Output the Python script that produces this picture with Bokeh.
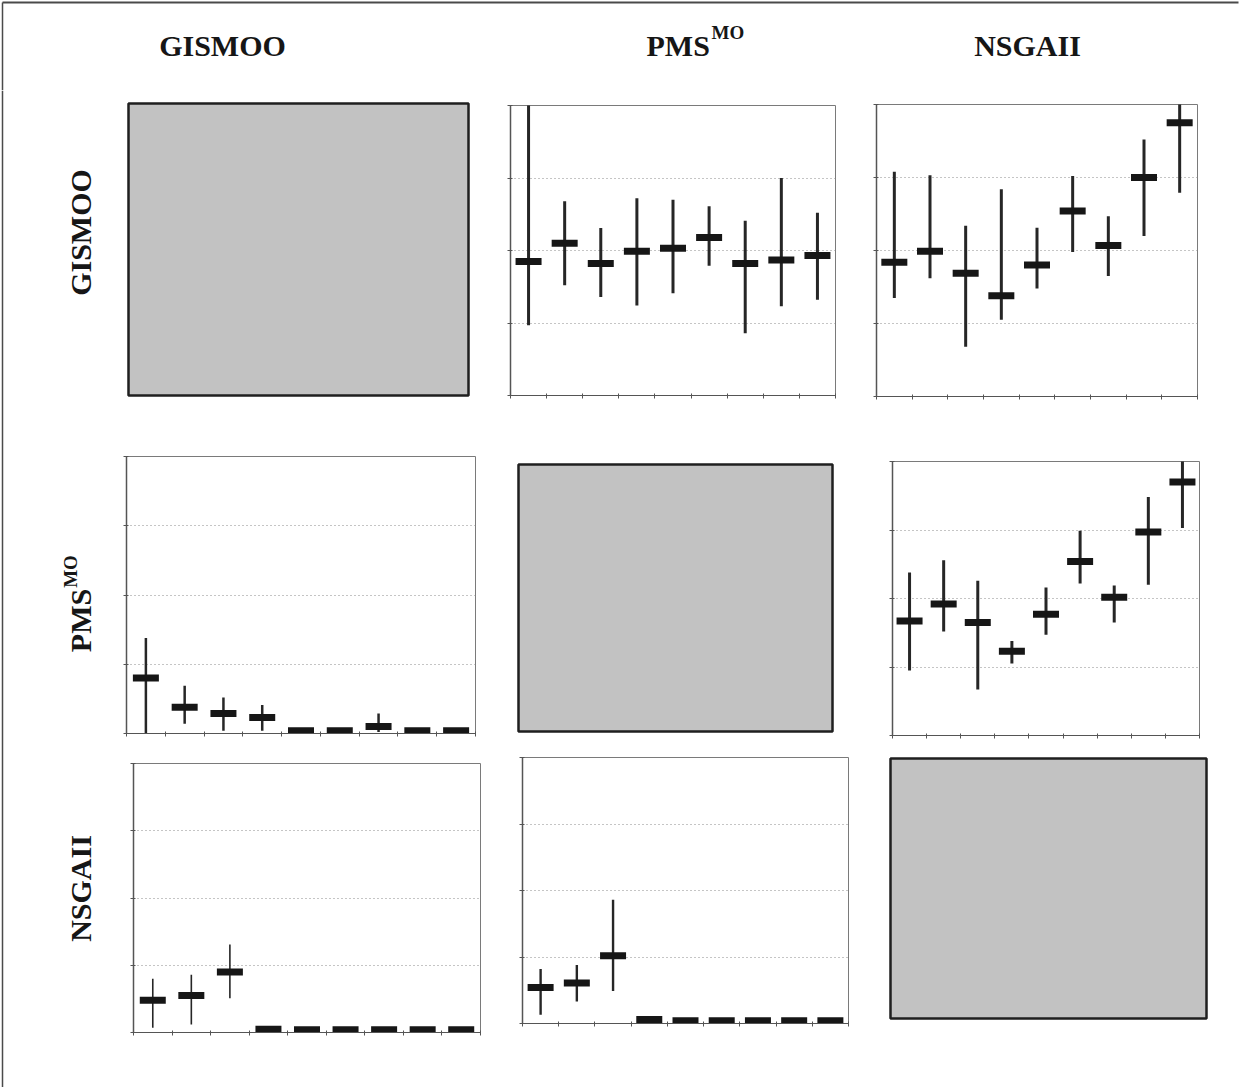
import numpy as np
from math import pi
from bokeh.plotting import figure
from bokeh.layouts import column, row, Spacer
from bokeh.models import Range1d, FixedTicker
from bokeh.embed import file_html
from bokeh.resources import INLINE
from bokeh.core.properties import value

# ---------------- data ----------------
algorithms = ["GISMOO", "PMS", "NSGAII"]
n_cases = 9
x_ticks = list(range(n_cases + 1))
y_ticks = [0, 1, 2, 3, 4]

# row GISMOO, column PMS^MO
r1c2_mean = [1.85, 2.10, 1.82, 1.99, 2.03, 2.18, 1.82, 1.87, 1.93]
r1c2_low = [0.97, 1.52, 1.36, 1.24, 1.41, 1.79, 0.86, 1.23, 1.32]
r1c2_high = [4.30, 2.68, 2.31, 2.72, 2.70, 2.61, 2.41, 3.00, 2.52]

# row GISMOO, column NSGAII
r1c3_mean = [1.84, 1.99, 1.69, 1.38, 1.80, 2.54, 2.07, 3.00, 3.75]
r1c3_low = [1.35, 1.62, 0.68, 1.05, 1.48, 1.98, 1.65, 2.20, 2.79]
r1c3_high = [3.08, 3.03, 2.34, 2.84, 2.31, 3.02, 2.47, 3.52, 4.05]

# row PMS^MO, column GISMOO
r2c1_mean = [0.80, 0.38, 0.29, 0.23, 0.04, 0.04, 0.10, 0.04, 0.04]
r2c1_low = [0.00, 0.14, 0.04, 0.04, 0.04, 0.04, 0.02, 0.04, 0.04]
r2c1_high = [1.38, 0.69, 0.52, 0.41, 0.04, 0.04, 0.29, 0.04, 0.04]

# row PMS^MO, column NSGAII
r2c3_mean = [1.67, 1.92, 1.65, 1.23, 1.77, 2.54, 2.02, 2.97, 3.70]
r2c3_low = [0.95, 1.52, 0.67, 1.05, 1.47, 2.22, 1.65, 2.20, 3.03]
r2c3_high = [2.38, 2.56, 2.26, 1.38, 2.16, 2.99, 2.19, 3.48, 4.05]

# row NSGAII, column GISMOO
r3c1_mean = [0.48, 0.55, 0.90, 0.05, 0.04, 0.04, 0.04, 0.04, 0.04]
r3c1_low = [0.07, 0.12, 0.51, 0.05, 0.04, 0.04, 0.04, 0.04, 0.04]
r3c1_high = [0.80, 0.86, 1.31, 0.05, 0.04, 0.04, 0.04, 0.04, 0.04]

# row NSGAII, column PMS^MO
r3c2_mean = [0.54, 0.61, 1.02, 0.06, 0.04, 0.04, 0.04, 0.04, 0.04]
r3c2_low = [0.13, 0.33, 0.49, 0.06, 0.04, 0.04, 0.04, 0.04, 0.04]
r3c2_high = [0.82, 0.88, 1.86, 0.06, 0.04, 0.04, 0.04, 0.04, 0.04]

panel_data = {
    (0, 1): (r1c2_mean, r1c2_low, r1c2_high, 3),
    (0, 2): (r1c3_mean, r1c3_low, r1c3_high, 3),
    (1, 0): (r2c1_mean, r2c1_low, r2c1_high, 2.5),
    (1, 2): (r2c3_mean, r2c3_low, r2c3_high, 3),
    (2, 0): (r3c1_mean, r3c1_low, r3c1_high, 1.6),
    (2, 1): (r3c2_mean, r3c2_low, r3c2_high, 2.4),
}

# ---------------- layout constants ----------------
PAGE_W = 1240
PAGE_H = 1087
HEADER_H = 90
bands = [(90, 420), (420, 748), (748, 1087)]
LABEL_W = 105
BL, BR, BT, BB = 8, 5, 5, 8
# frame boxes (x0, x1, y0, y1) in page pixels
frames = [
    [(128, 468, 103, 395), (510, 835, 105, 395), (876, 1197, 104, 396)],
    [(126, 475, 456, 733), (518, 832, 464, 731), (892, 1199, 461, 735)],
    [(133, 480, 763, 1032), (522, 848, 757, 1023), (890, 1206, 758, 1018)],
]

FONT = value("Liberation Serif")
INK = "#161616"
BORDER = "#4a4a4a"


def blank_fig(w, h, xr, yr):
    p = figure(width=w, height=h, output_backend="svg", toolbar_location=None,
               x_range=xr, y_range=yr, x_axis_type=None, y_axis_type=None,
               min_border=0)
    p.grid.visible = False
    p.outline_line_color = None
    p.background_fill_color = "white"
    p.border_fill_color = "white"
    return p


def make_panel(r, c):
    x0, x1, y0, y1 = frames[r][c]
    p = figure(width=(x1 - x0) + BL + BR, height=(y1 - y0) + BT + BB,
               output_backend="svg", toolbar_location=None,
               x_range=Range1d(0, n_cases), y_range=Range1d(y_ticks[0], y_ticks[-1]),
               min_border_left=BL, min_border_right=BR,
               min_border_top=BT, min_border_bottom=BB)
    p.border_fill_color = "white"
    if r == c:
        p.axis.visible = False
        p.grid.visible = False
        p.background_fill_color = "#c2c2c2"
        p.outline_line_color = "#1f1f1f"
        p.outline_line_width = 2.5
        return p
    p.background_fill_color = "white"
    p.outline_line_color = "#7a7a7a"
    p.outline_line_width = 1
    p.xaxis.ticker = FixedTicker(ticks=x_ticks)
    p.yaxis.ticker = FixedTicker(ticks=y_ticks)
    p.xaxis.major_label_overrides = {t: "" for t in x_ticks}
    p.yaxis.major_label_overrides = {t: "" for t in y_ticks}
    for ax in (p.xaxis[0], p.yaxis[0]):
        ax.major_label_text_font_size = "0px"
        ax.major_label_standoff = 0
        ax.axis_line_color = "#555555"
        ax.major_tick_line_color = "#555555"
        ax.major_tick_in = 2
        ax.major_tick_out = 3
        ax.minor_tick_line_color = None
    p.yaxis.axis_line_width = 1.5
    p.xgrid.grid_line_color = None
    p.ygrid.grid_line_color = "#8a8a8a"
    p.ygrid.grid_line_dash = "1 3"
    p.ygrid.grid_line_width = 1

    mean, low, high, lw = panel_data[(r, c)]
    xs = np.arange(n_cases) + 0.5
    p.segment(x0=xs, y0=low, x1=xs, y1=high, line_width=lw, line_color="#262626")
    p.rect(x=xs, y=mean, width=26, height=7, width_units="screen",
           height_units="screen", fill_color=INK, line_color=None)
    return p


# ---------------- header ----------------
header = blank_fig(PAGE_W, HEADER_H, Range1d(0, PAGE_W), Range1d(HEADER_H, 0))
header.segment(x0=[2, 2], y0=[2, 2], x1=[1238, 2], y1=[2, HEADER_H],
               line_color=BORDER, line_width=[2, 1.5])
header.text(x=[222, 1027], y=[45, 45], text=["GISMOO", "NSGAII"], text_font=FONT,
            text_font_style="bold", text_font_size="30px", text_align="center",
            text_baseline="alphabetic", text_color=INK)
header.text(x=[646], y=[45], text=["PMS"], text_font=FONT, text_font_style="bold",
            text_font_size="30px", text_align="left", text_baseline="alphabetic",
            text_color=INK)
header.text(x=[711], y=[32], text=["MO"], text_font=FONT, text_font_style="bold",
            text_font_size="19px", text_align="left", text_baseline="alphabetic",
            text_color=INK)

# ---------------- row labels (one tall strip) ----------------
lab = blank_fig(LABEL_W, PAGE_H - HEADER_H, Range1d(0, LABEL_W), Range1d(PAGE_H, HEADER_H))
lab.segment(x0=[2], y0=[HEADER_H], x1=[2], y1=[PAGE_H], line_color=BORDER, line_width=1.5)
lab.text(x=[80, 80], y=[232, 888], text=[algorithms[0], algorithms[2]], angle=pi / 2,
         text_font=FONT, text_font_style="bold", text_font_size="30px",
         text_align="center", text_baseline="middle", text_color=INK)
lab.text(x=[80], y=[620], text=[algorithms[1]], angle=pi / 2,
         text_font=FONT, text_font_style="bold", text_font_size="30px",
         text_align="center", text_baseline="middle", text_color=INK)
lab.text(x=[70], y=[571], text=["MO"], angle=pi / 2,
         text_font=FONT, text_font_style="bold", text_font_size="19px",
         text_align="center", text_baseline="middle", text_color=INK)

# ---------------- panel grid ----------------
band_rows = []
for r, (bt, bb) in enumerate(bands):
    h = bb - bt
    children = []
    cur = LABEL_W
    for c in range(3):
        x0, x1, y0, y1 = frames[r][c]
        p = make_panel(r, c)
        left = x0 - BL
        if left > cur:
            children.append(Spacer(width=left - cur, height=h))
        top_gap = (y0 - BT) - bt
        bot_gap = bb - (y1 + BB)
        parts = []
        if top_gap > 0:
            parts.append(Spacer(width=p.width, height=top_gap))
        parts.append(p)
        if bot_gap > 0:
            parts.append(Spacer(width=p.width, height=bot_gap))
        children.append(column(*parts))
        cur = left + p.width
    if PAGE_W > cur:
        children.append(Spacer(width=PAGE_W - cur, height=h))
    band_rows.append(row(*children))

body = row(lab, column(*band_rows))
page = column(header, body)
open("out.html", "w").write(file_html(page, INLINE))
